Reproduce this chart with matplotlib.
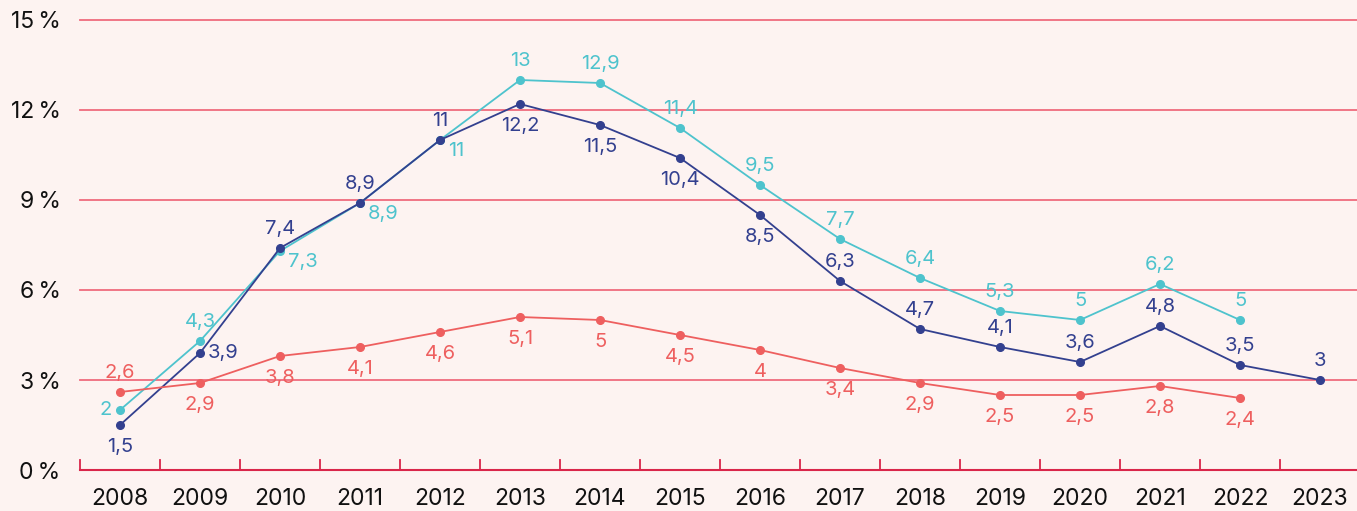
import matplotlib
matplotlib.use("Agg")
import matplotlib.pyplot as plt
import numpy as np

plt.rcParams["font.family"] = ["Inter", "DejaVu Sans"]

# ── data ─────────────────────────────────────────────
years = ["2008", "2009", "2010", "2011", "2012", "2013", "2014", "2015",
         "2016", "2017", "2018", "2019", "2020", "2021", "2022", "2023"]
teal_vals = [2, 4.3, 7.3, 8.9, 11, 13, 12.9, 11.4, 9.5, 7.7, 6.4, 5.3, 5, 6.2, 5, None]
navy_vals = [1.5, 3.9, 7.4, 8.9, 11, 12.2, 11.5, 10.4, 8.5, 6.3, 4.7, 4.1, 3.6, 4.8, 3.5, 3]
red_vals = [2.6, 2.9, 3.8, 4.1, 4.6, 5.1, 5, 4.5, 4, 3.4, 2.9, 2.5, 2.5, 2.8, 2.4, None]
y_ticks = [0, 3, 6, 9, 12, 15]

# label placement per point: a=above, b=below, l=left, r=right, d=down-right
teal_pos = ["l", "a", "d", "d", "d", "a", "a", "a", "a", "a", "a", "a", "a", "a", "a", "a"]
navy_pos = ["b", "r", "a", "a", "a", "b", "b", "b", "b", "a", "a", "a", "a", "a", "a", "a"]
red_pos = ["a"] + ["b"] * 15

TEAL = "#4ec3cd"
NAVY = "#33408f"
RED = "#ee5f5f"
GRID = "#ef6b7d"
AXIS = "#d9264a"
BG = "#fdf3f1"

OFFS = {"a": ((0, 19), "center"), "b": ((0, -22), "center"),
        "l": ((-8, 0), "right"), "r": ((8, 0), "left"),
        "d": ((8, -11), "left")}


def fmt(v):
    s = f"{v:g}"
    return s.replace(".", ",")


fig = plt.figure(figsize=(13.57, 5.11), dpi=100, facecolor=BG)
ax = fig.add_axes([80 / 1357, 41 / 511, 1277 / 1357, 450 / 511])
ax.set_facecolor(BG)

x = np.arange(len(years))
ax.set_xlim(-0.5, -0.5 + 1277 / 80)
ax.set_ylim(0, 15)

for t in y_ticks[1:]:
    ax.axhline(t, color=GRID, lw=1.3, zorder=1, clip_on=False)


def draw(vals, color, pos):
    xs = [i for i, v in enumerate(vals) if v is not None]
    ys = [v for v in vals if v is not None]
    ax.plot(xs, ys, color=color, lw=1.3, marker="o", markersize=5.5,
            zorder=3, clip_on=False)
    for xi, yi in zip(xs, ys):
        (dx, dy), ha = OFFS[pos[xi]]
        ax.annotate(fmt(yi), (xi, yi), xytext=(dx, dy), textcoords="offset pixels",
                    ha=ha, va="center", fontsize=14.5, color=color, zorder=4)


draw(teal_vals, TEAL, teal_pos)
draw(navy_vals, NAVY, navy_pos)
draw(red_vals, RED, red_pos)

for s in ["top", "right", "left"]:
    ax.spines[s].set_visible(False)
ax.spines["bottom"].set_color(AXIS)
ax.spines["bottom"].set_linewidth(1.5)

# x tick marks between categories (upward), labels at category centres
ax.set_xticks(x)
ax.set_xticklabels(years, fontsize=16.5, color="#111111")
ax.tick_params(axis="x", length=0, pad=13)
for b in np.arange(-0.5, len(years) - 1, 1.0):
    ax.plot([b, b], [0, 0.33], color=AXIS, lw=1.3, zorder=2, clip_on=False)

ax.set_yticks(y_ticks)
ax.set_yticklabels([f"{t}\u2009%" for t in y_ticks], fontsize=16.5, color="#111111")
ax.tick_params(axis="y", length=0, pad=14)
ax.get_yticklabels()[0].set_y(-0.25)

fig.savefig("out.png", dpi=100, facecolor=BG)
